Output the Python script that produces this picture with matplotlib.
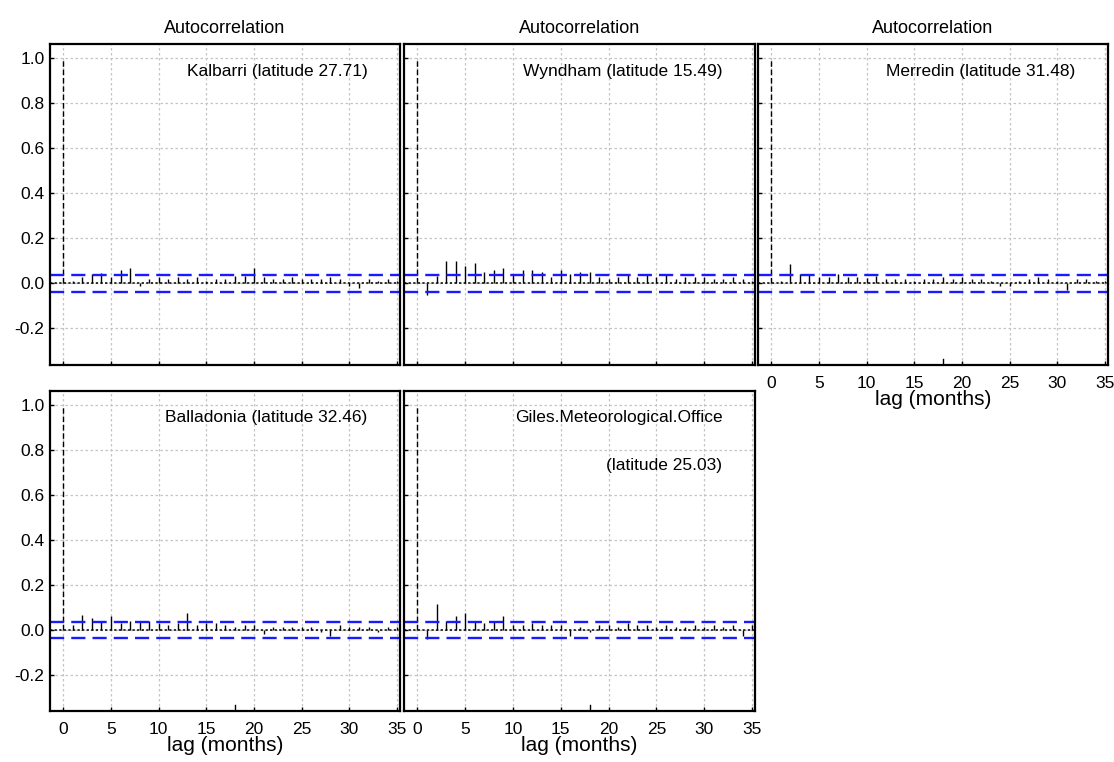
import numpy as np
import matplotlib
matplotlib.use("Agg")
import matplotlib.pyplot as plt

plt.rcParams['font.family'] = ['Liberation Sans', 'DejaVu Sans']

lags = np.arange(0, 36)

station_names = ["Kalbarri (latitude 27.71)",
                 "Wyndham (latitude 15.49)",
                 "Merredin (latitude 31.48)",
                 "Balladonia (latitude 32.46)",
                 "Giles.Meteorological.Office"]
giles_second_line = "(latitude 25.03)"

acf_kalbarri = [1.0, 0.01, 0.03, 0.04, 0.045, 0.03, 0.06, 0.07, -0.01, 0.02, 0.03,
                0.02, 0.03, 0.02, 0.03, 0.01, 0.02, 0.02, 0.035, 0.035, 0.07,
                0.03, 0.02, 0.02, 0.03, 0.02, 0.02, 0.02, 0.03, 0.02, -0.01,
                -0.02, 0.02, 0.01, 0.02, 0.01]
acf_wyndham = [1.0, -0.05, 0.035, 0.10, 0.10, 0.075, 0.09, 0.05, 0.06, 0.07, 0.04,
               0.06, 0.06, 0.05, 0.03, 0.06, 0.04, 0.05, 0.05, 0.03, 0.02,
               0.03, 0.04, 0.03, 0.04, 0.03, 0.04, 0.02, 0.03, 0.03, 0.03,
               0.02, 0.02, 0.03, 0.02, 0.01]
acf_merredin = [1.0, 0.01, 0.085, 0.04, 0.04, 0.03, 0.03, 0.04, 0.03, 0.03, 0.025,
                0.035, 0.02, 0.02, 0.02, 0.01, 0.02, 0.02, 0.03, 0.02, 0.03,
                0.02, 0.02, 0.01, -0.01, -0.01, 0.01, 0.02, 0.03, 0.02, 0.01,
                -0.03, 0.02, 0.02, 0.01, 0.01]
acf_balladonia = [1.0, 0.02, 0.065, 0.05, 0.035, 0.06, 0.03, 0.04, 0.04, 0.04, 0.03,
                  0.02, 0.03, 0.075, 0.02, 0.03, 0.03, 0.02, 0.01, 0.02, 0.02,
                  -0.02, 0.01, 0.01, 0.01, 0.01, 0.01, -0.01, -0.03, 0.02, 0.01,
                  0.01, 0.01, -0.01, 0.01, 0.01]
acf_giles = [1.0, -0.04, 0.115, 0.04, 0.06, 0.075, 0.04, 0.03, 0.04, 0.06, 0.02,
             0.02, 0.03, 0.02, 0.02, 0.02, -0.03, 0.01, -0.01, 0.02, 0.02,
             0.01, 0.03, 0.02, 0.02, 0.01, 0.02, 0.01, 0.01, 0.02, 0.01,
             0.02, 0.01, 0.02, -0.03, 0.02]

series = [acf_kalbarri, acf_wyndham, acf_merredin, acf_balladonia, acf_giles]
conf_band = 0.036

xticks = [0, 5, 10, 15, 20, 25, 30, 35]
yticks = [-0.2, 0.0, 0.2, 0.4, 0.6, 0.8, 1.0]

W, H = 1114, 762
fig = plt.figure(figsize=(W / 100, H / 100), dpi=100)

# panel boxes in pixels: (left, top, right, bottom)
boxes = [(50, 44, 400, 365), (404, 44, 755, 365), (758, 44, 1108, 365),
         (50, 391, 400, 711), (404, 391, 755, 711)]

for i, (box, vals, name) in enumerate(zip(boxes, series, station_names)):
    l, t, r, b = box
    ax = fig.add_axes([l / W, 1 - b / H, (r - l) / W, (b - t) / H])
    ax.set_xlim(-1.4, 35.3)
    ax.set_ylim(-0.362, 1.062)
    ax.set_xticks(xticks)
    ax.set_yticks(yticks)
    ax.grid(True, color='#c4c4c4', linestyle=(0, (2, 2)), linewidth=0.9)
    ax.set_axisbelow(True)
    ax.tick_params(direction='in', length=3, width=1, labelsize=12.5)
    ax.tick_params(axis='y', pad=4)
    ax.tick_params(axis='x', pad=8)
    for sp in ax.spines.values():
        sp.set_linewidth(1.6)

    ax.axhline(0, color='black', linestyle=(0, (1.5, 1.5)), linewidth=1.1)
    ax.vlines(lags[:1], 0, vals[:1], color='black', linestyle=(0, (4, 2)), linewidth=1.0)
    ax.vlines(lags[1:], 0, vals[1:], color='black', linewidth=1.0)
    ax.axhline(conf_band, color='#1a1aff', linestyle=(0, (6, 3)), linewidth=1.7)
    ax.axhline(-conf_band, color='#1a1aff', linestyle=(0, (6, 3)), linewidth=1.7)

    ax.text(31.9, 0.942, name, ha='right', va='center', fontsize=12.5)
    if i == 4:
        ax.text(31.9, 0.73, giles_second_line, ha='right', va='center', fontsize=12.5)

    if i < 3:
        ax.set_title("Autocorrelation", fontsize=13, pad=8)
    if i not in (0, 3):
        ax.tick_params(labelleft=False)
    else:
        ax.set_yticklabels([f"{v:.1f}" for v in yticks])
    if i in (2, 3, 4):
        ax.axvline(18, ymin=0, ymax=0.02, color='black', linewidth=1.0)
        ax.set_xlabel("lag (months)", fontsize=15, labelpad=-1)
    else:
        ax.tick_params(labelbottom=False)

fig.savefig("out.png", dpi=100)
